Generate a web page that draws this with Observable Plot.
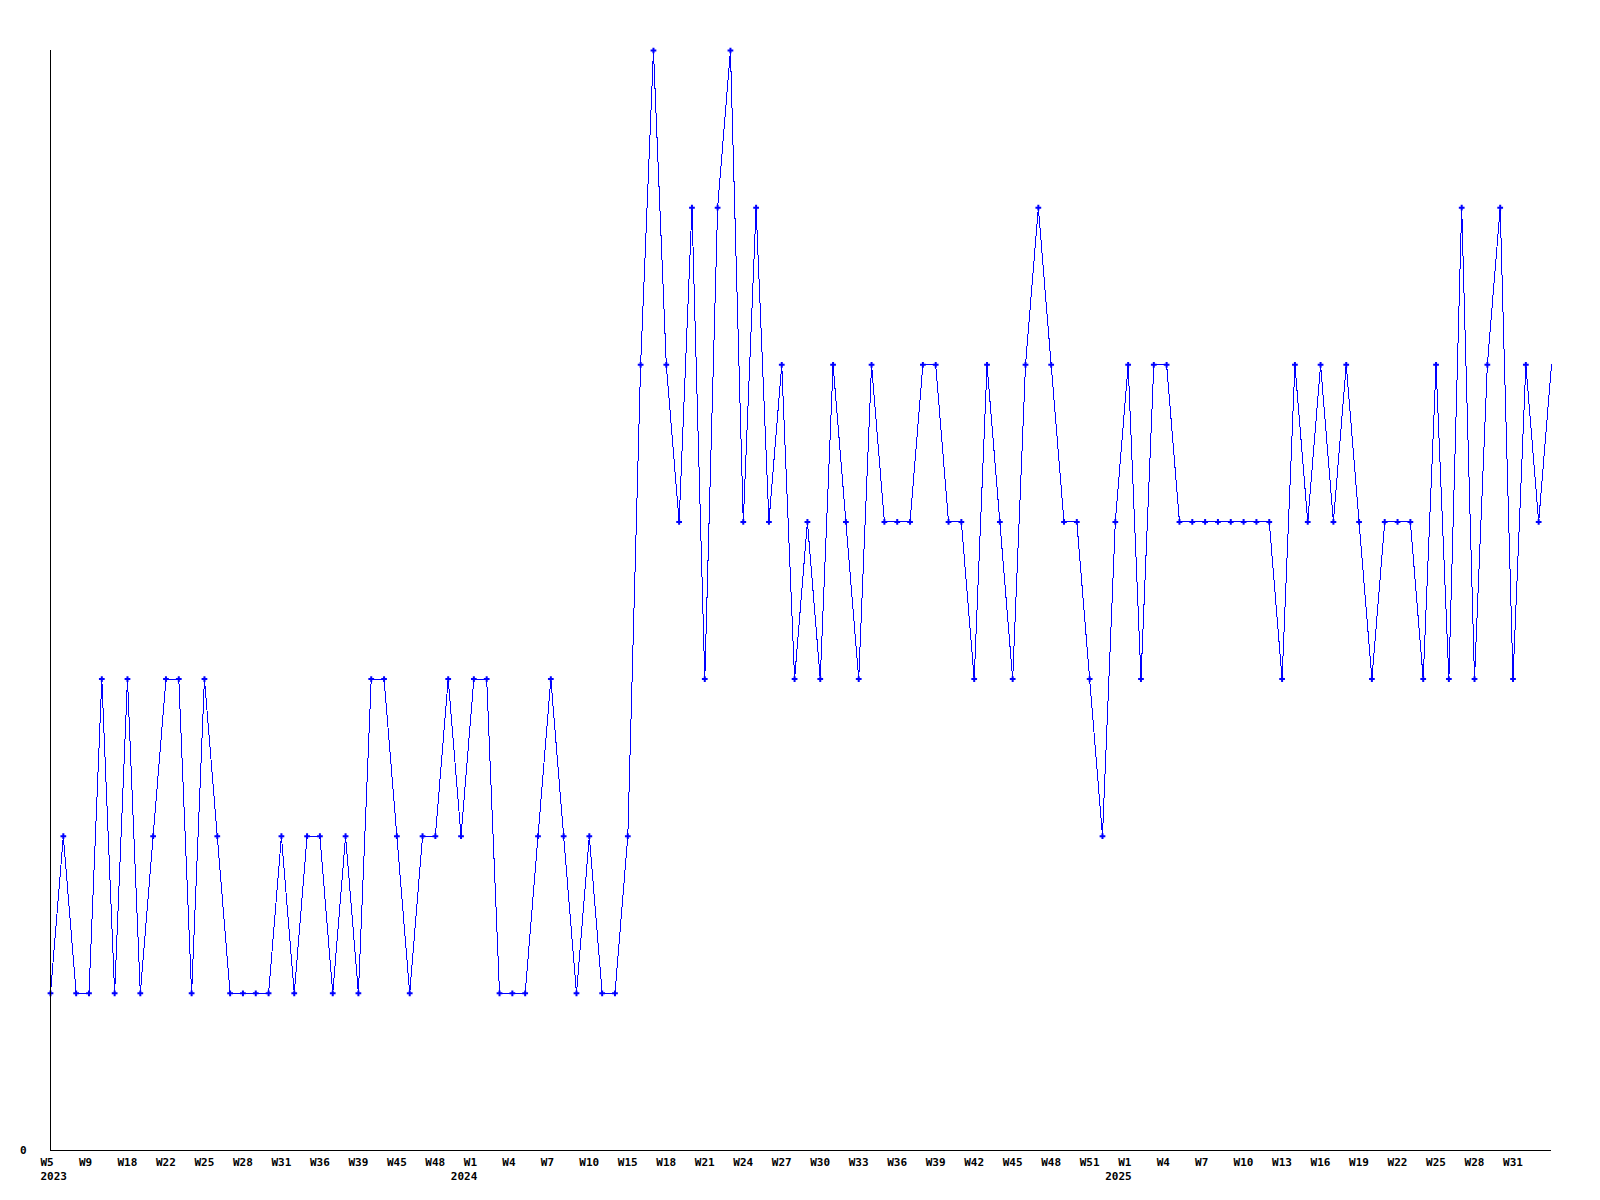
<!DOCTYPE html>
<html>
<head>
<meta charset="utf-8">
<script src="https://cdn.jsdelivr.net/npm/d3@7"></script>
<script src="https://cdn.jsdelivr.net/npm/@observablehq/plot@0.6"></script>
<style>
  html, body { margin: 0; padding: 0; background: #fff; }
  #chart svg { display: block; }
</style>
</head>
<body>
<div id="chart"></div>
<script>
// Week numbers of each data point, per year (points are consecutive on the x axis)
const weeks2023 = [5,6,7,9,10,14,18,19,20,22,23,24,25,26,27,28,29,30,31,33,34,36,37,38,39,41,43,45,46,47,48,50,52];
const weeks2024 = [1,2,3,4,5,6,7,8,9,10,12,13,15,16,17,18,19,20,21,22,23,24,25,26,27,28,29,30,31,32,33,34,35,36,37,38,39,40,41,42,43,44,45,46,47,48,49,50,51,52,53];
const weeks2025 = [1,2,3,4,5,6,7,8,9,10,11,12,13,14,15,16,17,18,19,20,21,22,23,24,25,26,27,28,29,30,31,32,33,34];

// Values per point
const values = [
  1,2,1,1,3,1,3,1,2,3,3,1,3,2,1,1,1,1,2,1,2,2,1,2,1,3,3,2,1,2,2,3,2,
  3,3,1,1,1,2,3,2,1,2,1,1,2,5,7,5,4,6,3,6,7,4,6,4,5,3,4,3,5,4,3,5,4,4,4,5,5,4,4,3,5,4,3,5,6,5,4,4,3,2,4,
  5,3,5,5,4,4,4,4,4,4,4,4,3,5,4,5,4,5,4,3,4,4,4,3,5,3,6,3,5,6,3,5,4,5
];

const yTicks = [0];

// Build table
const pts = [];
[[2023, weeks2023], [2024, weeks2024], [2025, weeks2025]].forEach(([yr, wk]) => {
  wk.forEach((w, j) => pts.push({year: yr, week: w, key: `${yr}-W${w}`, firstOfYear: j === 0}));
});
pts.forEach((p, i) => p.value = values[i]);
const keys = pts.map(p => p.key);
const byKey = new Map(pts.map(p => [p.key, p]));
const lastIndex = pts.length - 1;
const weekTicks = keys.filter((k, i) => i % 3 === 0 && i < lastIndex);
const yearTicks = pts.filter(p => p.firstOfYear).map(p => p.key);
const firstYearTick = yearTicks.slice(0, 1);
const laterYearTicks = yearTicks.slice(1);

const font = {fontFamily: "DejaVu Sans Mono", fontWeight: "bold", fontSize: 11, fill: "#000"};
const yearFmt = k => String(byKey.get(k).year);

const chart = Plot.plot({
  width: 1600,
  height: 1200,
  marginLeft: 50,
  marginRight: 49,
  marginTop: 50,
  marginBottom: 50,
  style: {background: "#fff", fontFamily: "DejaVu Sans Mono", fontSize: "11px", fontWeight: "bold"},
  x: {type: "point", domain: keys, padding: 0, axis: null, label: null},
  y: {domain: [0, 7], axis: null, label: null},
  marks: [
    Plot.axisX({ticks: weekTicks, tickFormat: k => "W" + byKey.get(k).week, tickSize: 0, tickPadding: 8,
      textAnchor: "start", dx: -10, label: null, ...font}),
    Plot.axisX({ticks: firstYearTick, tickFormat: yearFmt, tickSize: 0, tickPadding: 22,
      textAnchor: "start", dx: -10, label: null, ...font}),
    Plot.axisX({ticks: laterYearTicks, tickFormat: yearFmt, tickSize: 0, tickPadding: 22,
      textAnchor: "start", dx: -23, label: null, ...font}),
    Plot.axisY({ticks: yTicks, tickFormat: d => String(d), tickSize: 0, tickPadding: 24, label: null, ...font}),
    Plot.line(pts, {x: "key", y: "value", stroke: "#0000ff", strokeWidth: 1, shapeRendering: "crispEdges"}),
    Plot.dot(pts, {filter: (d, i) => i < lastIndex, x: "key", y: "value", symbol: "plus", r: 2, stroke: "#0000ff", strokeWidth: 2, fill: "none"}),
    Plot.ruleY([0], {stroke: "#000", strokeWidth: 1, shapeRendering: "crispEdges"}),
    Plot.ruleX([keys[0]], {y1: 0, y2: 7, stroke: "#000", strokeWidth: 1, shapeRendering: "crispEdges"})
  ]
});
document.getElementById("chart").appendChild(chart);
</script>
</body>
</html>
